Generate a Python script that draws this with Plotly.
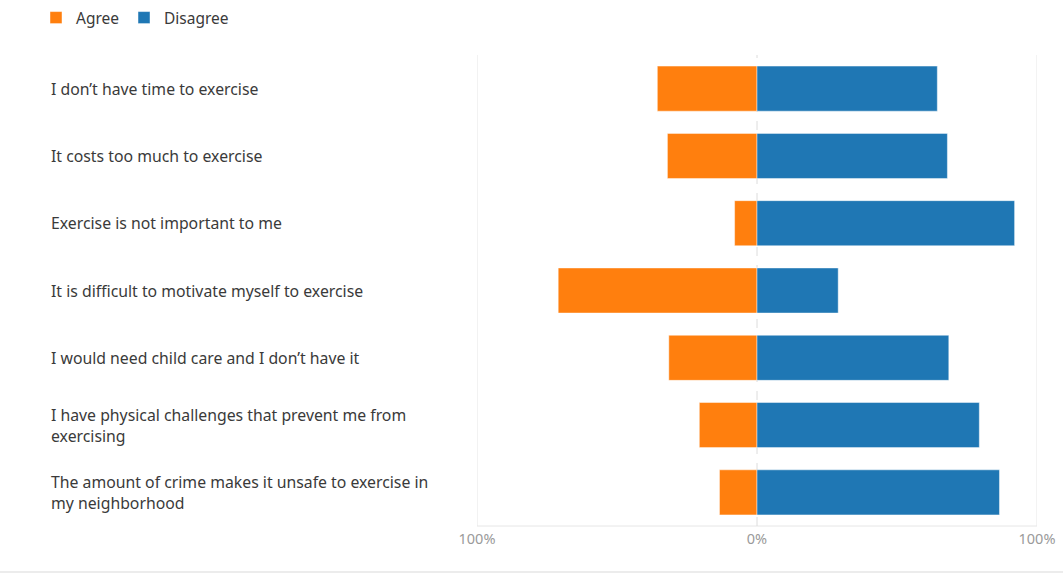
import plotly.graph_objects as go

categories = [
    "I don\u2019t have time to exercise",
    "It costs too much to exercise",
    "Exercise is not important to me",
    "It is difficult to motivate myself to exercise",
    "I would need child care and I don\u2019t have it",
    "I have physical challenges that prevent me from<br>exercising",
    "The amount of crime makes it unsafe to exercise in<br>my neighborhood",
]
agree = [35.6, 32.0, 8.0, 71.0, 31.5, 20.6, 13.4]
disagree = [64.4, 68.0, 92.0, 29.0, 68.5, 79.4, 86.6]
tick_vals = [-100, 0, 100]
tick_text = ["100%", "0%", "100%"]

ORANGE = "#ff7f0e"
BLUE = "#1f77b4"
FONT = "Noto Sans"

W, H = 1063, 575
L, R, T, B = 477, 26, 55, 49
plot_w = W - L - R
plot_h = H - T - B

fig = go.Figure()
fig.add_trace(go.Bar(
    y=categories, x=[-v for v in agree], orientation="h", name="Agree",
    marker=dict(color=ORANGE, line=dict(color="rgba(255,255,255,0.45)", width=1)),
    width=0.67,
))
fig.add_trace(go.Bar(
    y=categories, x=disagree, orientation="h", name="Disagree",
    marker=dict(color=BLUE, line=dict(color="rgba(255,255,255,0.45)", width=1)),
    width=0.67,
))

# category labels, left aligned in the margin
for c in categories:
    fig.add_annotation(
        x=(49 - L) / plot_w, xref="paper", y=c, yref="y",
        text=c, showarrow=False, xanchor="left", align="left",
        font=dict(family=FONT, size=15.8, color="#3a3a3a"),
    )

shapes = [
    dict(type="line", xref="x", yref="paper", x0=-100, x1=-100, y0=0, y1=1,
         line=dict(color="#e6e6e6", width=1), layer="below"),
    dict(type="line", xref="x", yref="paper", x0=100, x1=100, y0=0, y1=1,
         line=dict(color="#e6e6e6", width=1), layer="below"),
    dict(type="line", xref="x", yref="paper", x0=-100, x1=100, y0=0, y1=0,
         line=dict(color="#e6e6e6", width=1), layer="below"),
    dict(type="line", xref="x", yref="paper", x0=0, x1=0, y0=0, y1=1,
         line=dict(color="#dcdcdc", width=1, dash="dash"), layer="below"),
    dict(type="line", xref="paper", yref="paper", x0=-L / plot_w, x1=(W - L) / plot_w,
         y0=-(B - 3) / plot_h, y1=-(B - 3) / plot_h,
         line=dict(color="#ececec", width=2)),
]

fig.update_layout(
    width=W, height=H,
    margin=dict(l=L, r=R, t=T, b=B, autoexpand=False),
    barmode="relative",
    plot_bgcolor="white", paper_bgcolor="white",
    font=dict(family=FONT, color="#3a3a3a"),
    shapes=shapes,
    showlegend=True,
    legend=dict(
        orientation="h", x=(36 - L) / plot_w, xanchor="left",
        y=1 + (T - 1) / plot_h, yanchor="top",
        font=dict(family=FONT, size=15.5, color="#3a3a3a"),
        itemwidth=30, traceorder="normal",
        bgcolor="rgba(0,0,0,0)",
    ),
    xaxis=dict(
        range=[-100, 100], tickvals=tick_vals, ticktext=tick_text,
        showgrid=False, zeroline=False, showline=False,
        tickfont=dict(family=FONT, size=14.5, color="#9a9a9a"),
        ticks="", ticklabelstandoff=2,
    ),
    yaxis=dict(
        autorange="reversed", showticklabels=False, showgrid=False,
        zeroline=False, showline=False, ticks="",
    ),
)

fig.write_html("out.html")
